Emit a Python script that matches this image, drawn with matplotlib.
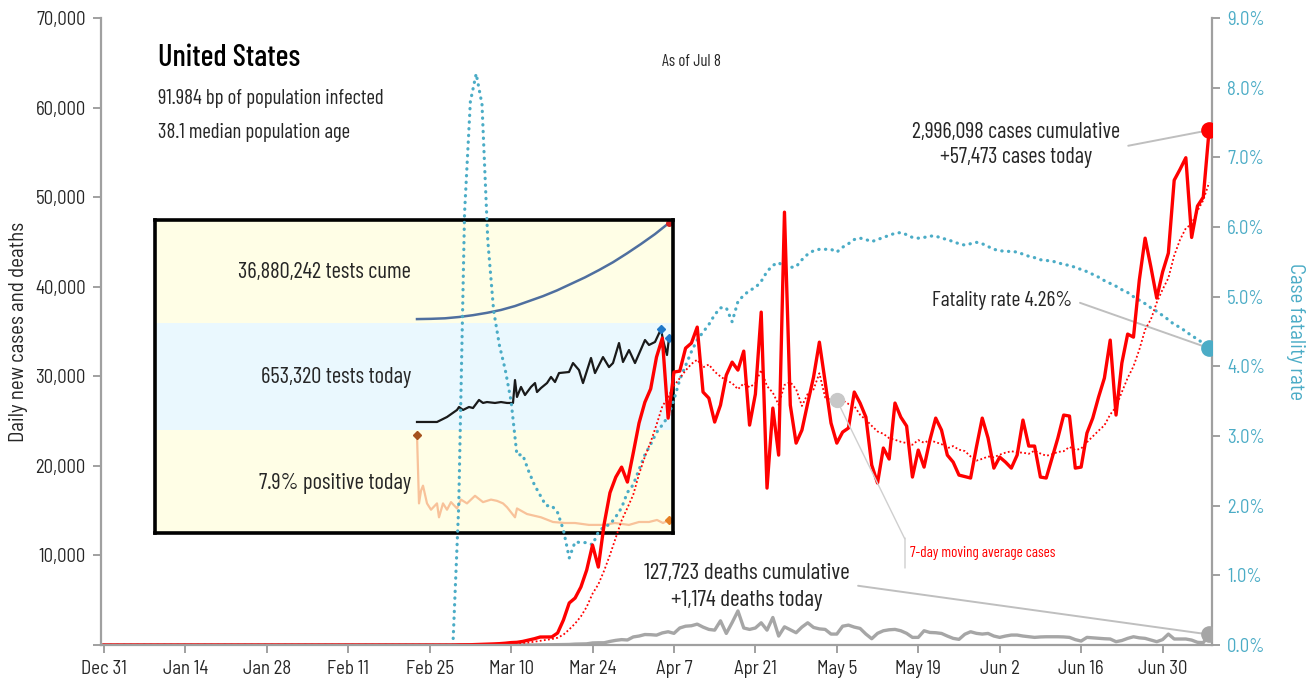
import matplotlib
matplotlib.use("Agg")
import matplotlib.pyplot as plt
import numpy as np
import pandas as pd

plt.rcParams['font.family'] = ['Barlow Condensed', 'DejaVu Sans']
TICKFONT = ['Barlow Semi Condensed', 'DejaVu Sans']

# ---------------- data (day 0 = Dec 31, 2019) ----------------
tick_days = [0, 14, 28, 42, 56, 70, 84, 98, 112, 126, 140, 154, 168, 182]
tick_labels = ["Dec 31", "Jan 14", "Jan 28", "Feb 11", "Feb 25", "Mar 10", "Mar 24",
               "Apr 7", "Apr 21", "May 5", "May 19", "Jun 2", "Jun 16", "Jun 30"]

# daily new cases, Dec 31 .. Feb 29 are zero, then Mar 1 .. Jul 8
cases_early_zero_days = 61
cases_from_mar1 = [
    20, 20, 30, 50, 60, 100, 120, 150, 200, 270,
    300, 400, 550, 700, 890, 890, 900, 1340, 2790, 4690,
    5240, 6470, 8370, 11160, 8700, 13500, 17000, 18740, 19860, 18190,
    21430, 24780, 27100, 28600, 32140, 34260, 25330, 30470, 30580, 33140,
    33700, 35490, 28240, 27560, 24890, 26780, 30130, 31580, 30690, 32810,
    24550, 28010, 37160, 17520, 26450, 21200, 48320, 26780, 22540, 23990,
    27010, 29910, 33810, 29350, 24780, 22540, 23770, 24220, 28240, 27010,
    25440, 20090, 18080, 21990, 20760, 27010, 25440, 24440, 18750, 21760,
    19860, 22880, 25330, 23990, 21200, 20420, 18970, 18800, 18640, 22100,
    25330, 23100, 19750, 20980, 20420, 19750, 21200, 25110, 22210, 22210,
    18750, 18640, 20870, 23100, 25670, 25560, 19750, 19860, 23660, 25330,
    27680, 29800, 34040, 25670, 31470, 34710, 34370, 40730, 45420, 42180,
    38730, 41630, 43750, 51890, 53100, 54400, 45500, 49000, 50000, 57473,
]

# daily deaths, Feb 29 .. Jul 8 (zero before)
deaths_from_feb29 = [
    0, 1, 5, 1, 2, 3, 2, 4, 3, 5,
    4, 8, 10, 12, 10, 15, 25, 30, 40, 50,
    60, 100, 120, 130, 230, 250, 250, 400, 520, 600,
    560, 900, 1000, 1170, 1150, 1100, 1350, 1480, 1300, 1900,
    2100, 2150, 2330, 2000, 1740, 1660, 2700, 1290, 2500, 3800,
    1900, 1740, 1900, 2480, 1660, 3070, 1000, 2030, 1700, 1370,
    2000, 2480, 1960, 1800, 1740, 1220, 1220, 2100, 2220, 2000,
    1850, 1220, 700, 1300, 1590, 1700, 1740, 1590, 1300, 850,
    850, 1590, 1400, 1370, 1290, 1000, 740, 630, 1200, 1480,
    1300, 1220, 1290, 1000, 850, 1000, 1110, 1110, 1000, 920,
    850, 900, 920, 920, 920, 900, 850, 600, 440, 850,
    800, 740, 700, 670, 370, 500, 740, 920, 800, 740,
    550, 370, 600, 1220, 670, 670, 670, 550, 300, 260,
    1174,
]

# case fatality rate (%), Feb 29 .. Jul 8 (zero before)
cfr_from_feb29 = [
    0.0, 2.0, 6.2, 7.8, 8.2, 7.76, 5.8, 4.8, 4.3, 3.95,
    3.5, 2.73, 2.73, 2.5, 2.3, 2.15, 2.0, 2.0, 1.9, 1.65,
    1.25, 1.48, 1.47, 1.47, 1.44, 1.62, 1.7, 1.73, 1.84, 1.97,
    2.19, 2.3, 2.52, 2.73, 2.88, 3.05, 3.16, 3.28, 3.52, 3.81,
    4.01, 4.21, 4.38, 4.49, 4.6, 4.74, 4.84, 4.84, 4.64, 4.93,
    5.02, 5.09, 5.13, 5.22, 5.36, 5.45, 5.49, 5.42, 5.42, 5.43,
    5.53, 5.61, 5.66, 5.68, 5.68, 5.68, 5.64, 5.71, 5.76, 5.82,
    5.84, 5.82, 5.79, 5.82, 5.85, 5.88, 5.91, 5.92, 5.89, 5.85,
    5.84, 5.85, 5.87, 5.87, 5.84, 5.82, 5.79, 5.76, 5.74, 5.76,
    5.78, 5.76, 5.72, 5.68, 5.66, 5.65, 5.65, 5.64, 5.61, 5.58,
    5.56, 5.53, 5.52, 5.51, 5.49, 5.46, 5.45, 5.42, 5.39, 5.36,
    5.32, 5.28, 5.23, 5.19, 5.15, 5.10, 5.06, 5.00, 4.95, 4.90,
    4.84, 4.79, 4.73, 4.67, 4.60, 4.56, 4.50, 4.44, 4.39, 4.33,
    4.26,
]

# inset: cumulative tests (millions)
cume_days = [64, 71, 78, 85, 92, 99, 106, 113, 120, 127, 134, 141, 148, 155, 162, 169, 176, 183, 190]
cume_tests_m = [0.0, 0.1, 0.3, 0.8, 1.5, 2.4, 3.5, 5.0, 6.9, 8.8, 11.0, 13.5, 16.0, 18.8, 21.8, 25.2, 28.8, 32.6, 36.88]

# inset: daily tests (thousands)
tests_days = [64, 74, 79, 84, 85, 87, 90, 92, 95, 97, 99, 103, 106, 109, 112, 113, 114, 116, 118, 121,
              123, 124, 126, 129, 131, 133, 135, 140, 142, 145, 147, 151, 153, 157, 160, 162, 165, 167,
              170, 173, 178, 180, 183, 186, 187, 189, 190]
tests_k = [7.7, 7.7, 46, 100, 123, 100, 123, 115, 177, 154, 161, 154, 161, 154, 154, 330, 200, 277, 215, 277,
           307, 238, 269, 307, 354, 315, 384, 392, 461, 407, 307, 500, 384, 507, 430, 461, 615, 469,
           561, 461, 638, 600, 623, 722, 638, 523, 653.32]

# inset: positive rate (%)
pos_days = [64, 65, 66, 67, 69, 71, 74, 75, 77, 79, 81, 84, 86, 89, 93, 97, 101, 104, 107, 109,
            113, 114, 119, 126, 132, 138, 143, 150, 157, 163, 170, 175, 180, 184, 187, 190]
pos_pct = [75, 21, 31, 35, 21, 16, 21, 10, 21, 16, 22, 17, 24, 21, 27, 22, 24, 23, 21, 18,
           10, 17, 12.6, 10, 6.3, 5.5, 5.5, 4.0, 4.0, 5.5, 4.0, 6.3, 6.3, 7.9, 5.5, 7.9]

# ---------------- derived series ----------------
cases = np.array([0] * cases_early_zero_days + cases_from_mar1, dtype=float)
days = np.arange(len(cases))
ma7 = pd.Series(cases).rolling(7, min_periods=1).mean().to_numpy()
deaths = np.array([0] * 60 + deaths_from_feb29, dtype=float)
cfr = np.array([0.0] * 60 + cfr_from_feb29)

RED = "#FF0000"
TEAL = "#4BACC6"
GRAY = "#A6A6A6"
LEAD = "#BFBFBF"
SPINE = "#A0A0A0"
TXT = "#262626"

fig = plt.figure(figsize=(13.15, 6.83), dpi=100)
fig.patch.set_facecolor("white")

# ---------------- inset panels ----------------
L, W = 155 / 1315, (673 - 155) / 1315
def fy(px):
    return 1 - px / 683
inset_xlim = (-67, 192)
ax_top = fig.add_axes([L, fy(323), W, (323 - 220) / 683], zorder=1)
ax_mid = fig.add_axes([L, fy(430), W, (430 - 323) / 683], zorder=1)
ax_bot = fig.add_axes([L, fy(533), W, (533 - 430) / 683], zorder=1)
for a, fc in [(ax_top, "#FFFEE6"), (ax_mid, "#EAF8FE"), (ax_bot, "#FFFEE6")]:
    a.set_facecolor(fc)
    a.set_xlim(*inset_xlim)
    a.set_xticks([]); a.set_yticks([])
    for s in a.spines.values():
        s.set_visible(False)
ax_top.set_ylim(-1.5, 38.0)
ax_mid.set_ylim(-54, 769)
ax_bot.set_ylim(-2.4, 79)

ax_top.plot(cume_days, cume_tests_m, color="#4F6F9F", lw=1.8)
ax_top.plot(cume_days[-1], cume_tests_m[-1], "o", color="#D62020", ms=4)
ax_mid.plot(tests_days, tests_k, color="#1A1A1A", lw=1.6)
imax = int(np.argmax(tests_k))
ax_mid.plot([tests_days[imax], tests_days[-1]], [tests_k[imax], tests_k[-1]], "D",
            color="#1F78C8", ms=4, ls="none")
ax_bot.plot(pos_days, pos_pct, color="#F8C29A", lw=1.6)
ax_bot.plot(pos_days[0], pos_pct[0], "D", color="#A5521D", ms=4)
ax_bot.plot(pos_days[-1], pos_pct[-1], "D", color="#E67E22", ms=4)

fsz_in = 16.3
ax_top.text(411 / 1315, fy(272), "36,880,242 tests cume",
            transform=fig.transFigure, ha="right", va="center", fontsize=fsz_in, color=TXT)
ax_mid.text(411 / 1315, fy(378), "653,320 tests today", transform=fig.transFigure,
            ha="right", va="center", fontsize=fsz_in, color=TXT)
ax_bot.text(411 / 1315, fy(483), "7.9% positive today", transform=fig.transFigure,
            ha="right", va="center", fontsize=fsz_in, color=TXT)

ax_box = fig.add_axes([L, fy(533), W, (533 - 220) / 683], zorder=1.5)
ax_box.patch.set_visible(False)
ax_box.set_xticks([]); ax_box.set_yticks([])
for s in ax_box.spines.values():
    s.set_linewidth(2.6); s.set_color("black")

# ---------------- main axes ----------------
rect = [101 / 1315, 1 - 645 / 683, (1212 - 101) / 1315, (645 - 18) / 683]
ax = fig.add_axes(rect, zorder=3)
ax2 = ax.twinx()
ax2.set_zorder(2)
ax.patch.set_visible(False)
ax2.patch.set_visible(False)

ax.set_xlim(-0.5, 190.5)
ax.set_ylim(0, 70000)
ax2.set_ylim(0, 9.0)

# fatality rate (right axis)
ax2.plot(days, cfr, color=TEAL, lw=2.3, ls=(0, (0.1, 2.0)), dash_capstyle="round")
ax2.plot(days[-1], cfr[-1], "o", color=TEAL, ms=11, zorder=5)

# deaths, cases, moving average
ax.plot(days, deaths, color=GRAY, lw=2.4)
ax.plot(days, ma7, color=RED, lw=1.3, ls=(0, (1, 1.3)))
ax.plot(days, cases, color=RED, lw=2.4)
ax.plot(days[-1], cases[-1], "o", color=RED, ms=11, zorder=5)
ax.plot(days[-1], deaths[-1], "o", color=GRAY, ms=11, zorder=5)
ma_day = 126
ax.plot(ma_day, ma7[ma_day], "o", color="#C8C8C8", ms=10, zorder=5)

# axes styling
for a in (ax, ax2):
    a.spines["top"].set_visible(False)
ax.spines["right"].set_visible(False)
ax2.spines["left"].set_visible(False)
ax2.spines["bottom"].set_visible(False)
for sp in (ax.spines["left"], ax.spines["bottom"], ax2.spines["right"]):
    sp.set_color(SPINE); sp.set_linewidth(1.6)

ax.set_xticks(tick_days)
ax.set_xticklabels(tick_labels)
yt = list(range(0, 70001, 10000))
ax.set_yticks(yt)
ax.set_yticklabels([""] + [f"{v:,}" for v in yt[1:]])
ax2.set_yticks(np.arange(0, 9.01, 1.0))
ax2.set_yticklabels([f"{v:.1f}%" for v in np.arange(0, 9.01, 1.0)])
ax.tick_params(axis="x", length=6, width=1.4, color=SPINE, labelsize=13.5, labelcolor=TXT, pad=5)
ax.tick_params(axis="y", length=6, width=1.4, color=SPINE, labelsize=13.5, labelcolor=TXT, pad=5)
ax2.tick_params(axis="y", length=6, width=1.4, color=SPINE, labelsize=13.5, labelcolor=TEAL, pad=5)
for lab in ax.get_xticklabels() + ax.get_yticklabels() + ax2.get_yticklabels():
    lab.set_family(TICKFONT)

ax.set_ylabel("Daily new cases and deaths", fontsize=15, color=TXT, family=TICKFONT,
              rotation=90, va="center")
ax.yaxis.set_label_coords((19 - 101) / 1111, 0.5)
ax2.set_ylabel("Case fatality rate", fontsize=15, color=TEAL, rotation=270, va="center", family=TICKFONT)
ax2.yaxis.set_label_coords((1295 - 101) / 1111, 0.5)

def axf(xpx, ypx):
    return ((xpx - 101) / 1111, (645 - ypx) / 627)

# header texts
ax.text(*axf(158, 58), "United States", ha="left", va="center", fontsize=22, fontweight=500,
        color="black", transform=ax.transAxes)
ax.text(*axf(158, 99), "91.984 bp of population infected", ha="left", va="center", fontsize=15,
        color=TXT, transform=ax.transAxes)
ax.text(*axf(158, 132), "38.1 median population age", ha="left", va="center", fontsize=15,
        color=TXT, transform=ax.transAxes)
ax.text(*axf(691, 62), "As of Jul 8", ha="center", va="center", fontsize=12, color=TXT,
        transform=ax.transAxes)

# annotations with leader lines
ax.annotate("2,996,098 cases cumulative\n+57,473 cases today",
            xy=(days[-1], cases[-1]), xycoords="data",
            xytext=axf(1016, 145), textcoords="axes fraction",
            ha="center", va="center", fontsize=16, color=TXT, linespacing=1.3,
            arrowprops=dict(arrowstyle="-", color=LEAD, lw=1.4, shrinkA=4, shrinkB=0, relpos=(1.0, 0.45)))
ax2.annotate("Fatality rate 4.26%",
             xy=(days[-1], cfr[-1]), xycoords="data",
             xytext=axf(1072, 300), textcoords="axes fraction",
             ha="right", va="center", fontsize=15.5, color=TXT,
             arrowprops=dict(arrowstyle="-", color=LEAD, lw=1.4, shrinkA=4, shrinkB=0, relpos=(1.0, 0.5)))
ax.annotate("127,723 deaths cumulative\n+1,174 deaths today",
            xy=(days[-1], deaths[-1]), xycoords="data",
            xytext=axf(747, 587), textcoords="axes fraction",
            ha="center", va="center", fontsize=16.8, color=TXT, linespacing=1.35,
            arrowprops=dict(arrowstyle="-", color=LEAD, lw=1.4, shrinkA=4, shrinkB=0, relpos=(1.0, 0.55)))
ax.annotate("7-day moving average cases",
            xy=(ma_day, ma7[ma_day]), xycoords="data",
            xytext=axf(910, 553), textcoords="axes fraction",
            ha="left", va="center", fontsize=10.8, color=RED,
            arrowprops=dict(arrowstyle="-", color="#CFCFCF", lw=1.0, shrinkA=4, shrinkB=0, relpos=(0.0, 0.75)))
ax.annotate("", xy=axf(905, 538), xycoords="axes fraction", xytext=axf(905, 568), textcoords="axes fraction",
            arrowprops=dict(arrowstyle="-", color="#CFCFCF", lw=1.0, shrinkA=0, shrinkB=0))

fig.savefig("out.png", dpi=100, facecolor="white")
